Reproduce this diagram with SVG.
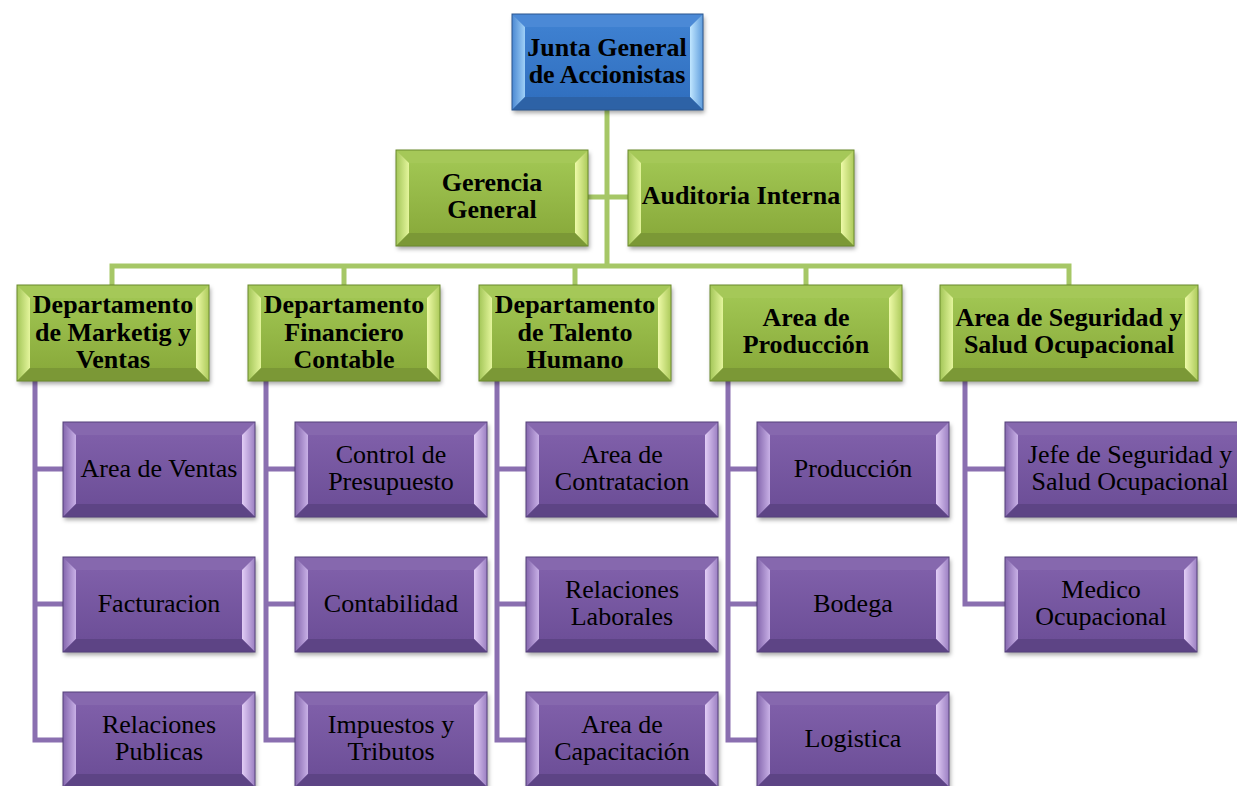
<svg xmlns="http://www.w3.org/2000/svg" xmlns:xlink="http://www.w3.org/1999/xlink" width="1237" height="786" viewBox="0 0 1237 786">
<style>
text{font-family:"Liberation Serif","Times New Roman",serif;font-size:26px;fill:#000;text-anchor:middle}
.b{font-weight:bold}
.cg{fill:none;stroke:#a6c766;stroke-width:5;stroke-linejoin:miter}
.cp{fill:none;stroke:#8a6fb0;stroke-width:5;stroke-linejoin:miter}
.gs{fill:#9bbf4f}.gf{fill:url(#gF)}.gt{fill:#a5c858}.gl{fill:url(#gL)}.gr{fill:url(#gR)}.gd{fill:#7b9836}.go{fill:none;stroke:#6b8a2c;stroke-width:1}
.ps{fill:#7759a2}.pf{fill:url(#pF)}.pt{fill:#8668ae}.pl{fill:url(#pL)}.pr{fill:url(#pR)}.pd{fill:#5d4485}.po{fill:none;stroke:#55407a;stroke-width:1}
.us{fill:#3a79c8}.uf{fill:url(#bF)}.ut{fill:#4b89d6}.ul{fill:url(#bL)}.ur{fill:url(#bR)}.ud{fill:#2d62a6}.uo{fill:none;stroke:#2a5790;stroke-width:1}
.sh{filter:url(#ds)}
</style>
<defs>
<filter id="ds" x="-10%" y="-10%" width="125%" height="130%"><feDropShadow dx="1.5" dy="3" stdDeviation="2" flood-color="#000" flood-opacity="0.35"/></filter>
<linearGradient id="gF" x1="0" y1="0" x2="0" y2="1"><stop offset="0" stop-color="#a0c552"/><stop offset="1" stop-color="#8aab3c"/></linearGradient>
<linearGradient id="gL" x1="0" y1="0" x2="1" y2="0"><stop offset="0" stop-color="#a3c658"/><stop offset="1" stop-color="#e4f59c"/></linearGradient>
<linearGradient id="gR" x1="0" y1="0" x2="1" y2="0"><stop offset="0" stop-color="#eefaa8"/><stop offset="1" stop-color="#acca5a"/></linearGradient>
<linearGradient id="pF" x1="0" y1="0" x2="0" y2="1"><stop offset="0" stop-color="#7f5fa9"/><stop offset="1" stop-color="#6d4f98"/></linearGradient>
<linearGradient id="pL" x1="0" y1="0" x2="1" y2="0"><stop offset="0" stop-color="#8466ad"/><stop offset="1" stop-color="#c8b0e6"/></linearGradient>
<linearGradient id="pR" x1="0" y1="0" x2="1" y2="0"><stop offset="0" stop-color="#e2cdf6"/><stop offset="1" stop-color="#9b7fc2"/></linearGradient>
<linearGradient id="bF" x1="0" y1="0" x2="0" y2="1"><stop offset="0" stop-color="#3e80d0"/><stop offset="1" stop-color="#3170c0"/></linearGradient>
<linearGradient id="bL" x1="0" y1="0" x2="1" y2="0"><stop offset="0" stop-color="#4b88d2"/><stop offset="1" stop-color="#9fd0f7"/></linearGradient>
<linearGradient id="bR" x1="0" y1="0" x2="1" y2="0"><stop offset="0" stop-color="#c0e6ff"/><stop offset="1" stop-color="#5e9cdc"/></linearGradient>
<g id="gbox">
<rect class="sh gs" x="0" y="0" width="192" height="96"/>
<rect class="gf" x="13" y="13" width="166" height="70"/>
<polygon class="gt" points="0,0 192,0 179,13 13,13"/>
<polygon class="gl" points="0,0 13,13 13,83 0,96"/>
<polygon class="gr" points="192,0 192,96 179,83 179,13"/>
<polygon class="gd" points="0,96 13,83 179,83 192,96"/>
<rect class="go" x="0" y="0" width="192" height="96"/>
</g>
<g id="pbox">
<rect class="sh ps" x="0" y="0" width="192" height="95"/>
<rect class="pf" x="13" y="13" width="166" height="69"/>
<polygon class="pt" points="0,0 192,0 179,13 13,13"/>
<polygon class="pl" points="0,0 13,13 13,82 0,95"/>
<polygon class="pr" points="192,0 192,95 179,82 179,13"/>
<polygon class="pd" points="0,95 13,82 179,82 192,95"/>
<rect class="po" x="0" y="0" width="192" height="95"/>
</g>
</defs>
<rect width="1237" height="786" fill="#fff"/>
<g id="connectors">
<path class="cg" d="M607,110 V266 M588,197 H628 M112,285 V266 H1069 V285 M344,266 V285 M575,266 V285 M806,266 V285"/>
<path class="cp" d="M35,381 V740 H63 M35,469 H63 M35,604 H63"/>
<path class="cp" d="M266,381 V740 H295 M266,469 H295 M266,604 H295"/>
<path class="cp" d="M497,381 V740 H526 M497,469 H526 M497,604 H526"/>
<path class="cp" d="M728,381 V740 H757 M728,469 H757 M728,604 H757"/>
<path class="cp" d="M965,381 V604 H1005 M965,469 H1005"/>
</g>
<g id="n-junta">
<rect class="sh us" x="512" y="14" width="191" height="96"/>
<rect class="uf" x="525" y="27" width="165" height="70"/>
<polygon class="ut" points="512,14 703,14 690,27 525,27"/>
<polygon class="ul" points="512,14 525,27 525,97 512,110"/>
<polygon class="ur" points="703,14 703,110 690,97 690,27"/>
<polygon class="ud" points="512,110 525,97 690,97 703,110"/>
<rect class="uo" x="512" y="14" width="191" height="96"/>
<text class="b" x="607" y="56">Junta General</text>
<text class="b" x="607" y="83">de Accionistas</text>
</g>
<g id="n-gerencia">
<use xlink:href="#gbox" x="396" y="150"/>
<text class="b" x="492" y="191">Gerencia</text>
<text class="b" x="492" y="218">General</text>
</g>
<g id="n-auditoria">
<rect class="sh gs" x="628" y="150" width="226" height="96"/>
<rect class="gf" x="641" y="163" width="200" height="70"/>
<polygon class="gt" points="628,150 854,150 841,163 641,163"/>
<polygon class="gl" points="628,150 641,163 641,233 628,246"/>
<polygon class="gr" points="854,150 854,246 841,233 841,163"/>
<polygon class="gd" points="628,246 641,233 841,233 854,246"/>
<rect class="go" x="628" y="150" width="226" height="96"/>
<text class="b" x="741" y="204">Auditoria Interna</text>
</g>
<g id="n-marketing">
<use xlink:href="#gbox" x="17" y="285"/>
<text class="b" x="113" y="313">Departamento</text>
<text class="b" x="113" y="341">de Marketig y</text>
<text class="b" x="113" y="368">Ventas</text>
</g>
<g id="n-financiero">
<use xlink:href="#gbox" x="248" y="285"/>
<text class="b" x="344" y="313">Departamento</text>
<text class="b" x="344" y="341">Financiero</text>
<text class="b" x="344" y="368">Contable</text>
</g>
<g id="n-talento">
<use xlink:href="#gbox" x="479" y="285"/>
<text class="b" x="575" y="313">Departamento</text>
<text class="b" x="575" y="341">de Talento</text>
<text class="b" x="575" y="368">Humano</text>
</g>
<g id="n-produccion">
<use xlink:href="#gbox" x="710" y="285"/>
<text class="b" x="806" y="326">Area de</text>
<text class="b" x="806" y="353">Producción</text>
</g>
<g id="n-seguridad">
<rect class="sh gs" x="940" y="285" width="258" height="96"/>
<rect class="gf" x="953" y="298" width="232" height="70"/>
<polygon class="gt" points="940,285 1198,285 1185,298 953,298"/>
<polygon class="gl" points="940,285 953,298 953,368 940,381"/>
<polygon class="gr" points="1198,285 1198,381 1185,368 1185,298"/>
<polygon class="gd" points="940,381 953,368 1185,368 1198,381"/>
<rect class="go" x="940" y="285" width="258" height="96"/>
<text class="b" x="1069" y="326">Area de Seguridad y</text>
<text class="b" x="1069" y="353">Salud Ocupacional</text>
</g>
<g id="n-ventas"><use xlink:href="#pbox" x="63" y="422"/><text x="159" y="477">Area de Ventas</text></g>
<g id="n-facturacion"><use xlink:href="#pbox" x="63" y="557"/><text x="159" y="612">Facturacion</text></g>
<g id="n-publicas"><use xlink:href="#pbox" x="63" y="692"/><text x="159" y="733">Relaciones</text><text x="159" y="760">Publicas</text></g>
<g id="n-presupuesto"><use xlink:href="#pbox" x="295" y="422"/><text x="391" y="463">Control de</text><text x="391" y="490">Presupuesto</text></g>
<g id="n-contabilidad"><use xlink:href="#pbox" x="295" y="557"/><text x="391" y="612">Contabilidad</text></g>
<g id="n-impuestos"><use xlink:href="#pbox" x="295" y="692"/><text x="391" y="733">Impuestos y</text><text x="391" y="760">Tributos</text></g>
<g id="n-contratacion"><use xlink:href="#pbox" x="526" y="422"/><text x="622" y="463">Area de</text><text x="622" y="490">Contratacion</text></g>
<g id="n-laborales"><use xlink:href="#pbox" x="526" y="557"/><text x="622" y="598">Relaciones</text><text x="622" y="625">Laborales</text></g>
<g id="n-capacitacion"><use xlink:href="#pbox" x="526" y="692"/><text x="622" y="733">Area de</text><text x="622" y="760">Capacitación</text></g>
<g id="n-prod"><use xlink:href="#pbox" x="757" y="422"/><text x="853" y="477">Producción</text></g>
<g id="n-bodega"><use xlink:href="#pbox" x="757" y="557"/><text x="853" y="612">Bodega</text></g>
<g id="n-logistica"><use xlink:href="#pbox" x="757" y="692"/><text x="853" y="747">Logistica</text></g>
<g id="n-jefe">
<rect class="sh ps" x="1005" y="422" width="250" height="95"/>
<rect class="pf" x="1018" y="435" width="224" height="69"/>
<polygon class="pt" points="1005,422 1255,422 1242,435 1018,435"/>
<polygon class="pl" points="1005,422 1018,435 1018,504 1005,517"/>
<polygon class="pr" points="1255,422 1255,517 1242,504 1242,435"/>
<polygon class="pd" points="1005,517 1018,504 1242,504 1255,517"/>
<rect class="po" x="1005" y="422" width="250" height="95"/>
<text x="1130" y="463">Jefe de Seguridad y</text>
<text x="1130" y="490">Salud Ocupacional</text>
</g>
<g id="n-medico"><use xlink:href="#pbox" x="1005" y="557"/><text x="1101" y="598">Medico</text><text x="1101" y="625">Ocupacional</text></g>
</svg>
